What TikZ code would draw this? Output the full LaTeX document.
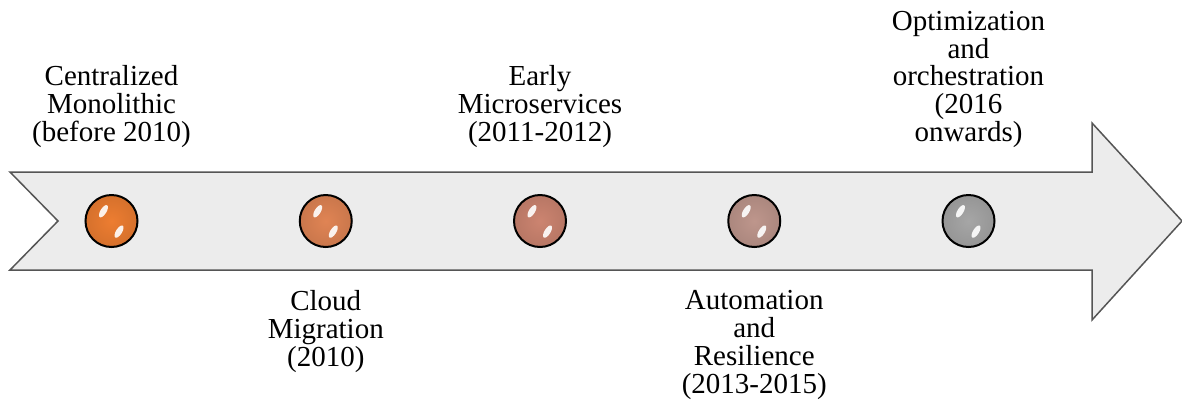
\documentclass[tikz,border=0pt]{standalone}
\usepackage{fontspec}
\setmainfont{Liberation Serif}
\newfontfamily\stagefont{Liberation Serif}
\usetikzlibrary{positioning,calc}
\definecolor{orange}{RGB}{237,125,49}
\definecolor{grey}{RGB}{166,166,166}
\definecolor{arrowfill}{RGB}{236,236,236}
\definecolor{arrowline}{RGB}{85,85,85}
\colorlet{stageone}{orange}
\definecolor{stagetwo}{RGB}{224,132,84}
\definecolor{stagethree}{RGB}{204,132,112}
\definecolor{stagefour}{RGB}{190,150,140}
\colorlet{stagefive}{grey}
\def\ballrad{13pt}
\def\firstx{111.5}
\def\stepx{214.25}
\def\midy{188}
\newcommand{\glossyball}[3]{%name,xpos,colour
  \node[ball,shading=radial,inner color=#3,outer color=#3!90!black] (#1) at (#2,\midy) {};
  \fill[white,opacity=0.9,rotate around={-32:($(#1)+(-12,4)$)}] ($(#1)+(-12,4)$) ellipse [x radius=3,y radius=7];
  \fill[white,opacity=0.9,rotate around={-32:($(#1)+(12,-5)$)}] ($(#1)+(12,-5)$) ellipse [x radius=3,y radius=7];
}
\tikzset{ball/.style={circle,draw=black,line width=1pt,minimum size=2*\ballrad,inner sep=0pt}}
\tikzset{stagetext/.style={align=center,inner sep=0pt,font=\stagefont\fontsize{14.5}{13.9}\selectfont}}

\begin{document}
\begin{tikzpicture}[x=0.5pt,y=0.5pt]
  \useasboundingbox (0,0) rectangle (1182,409);

  %% timeline arrow
  \draw[arrowline,fill=arrowfill,line width=0.75pt] (10,237) -- (58,188) -- (10,139) -- (1092,139) -- (1092,89)
       -- (1182,188) -- (1092,286) -- (1092,237) -- cycle;

  \foreach \i/\col in {1/stageone,2/stagetwo,3/stagethree,4/stagefour,5/stagefive} {
    \pgfmathsetmacro\bx{\firstx+(\i-1)*\stepx}
    \glossyball{b\i}{\bx}{\col}
  }

  \node[stagetext,above=23pt of b1] (t1) {Centralized\\Monolithic\\(before 2010)};
  \node[stagetext,below=21pt of b2] (t2) {Cloud\\Migration\\(2010)};
  \node[stagetext,above=23pt of b3] (t3) {Early\\Microservices\\(2011-2012)};
  \node[stagetext,below=21pt of b4] (t4) {Automation\\and\\Resilience\\(2013-2015)};
  \node[stagetext,above=23pt of b5] (t5) {Optimization\\and\\orchestration\\(2016\\onwards)};
\end{tikzpicture}
\end{document}
